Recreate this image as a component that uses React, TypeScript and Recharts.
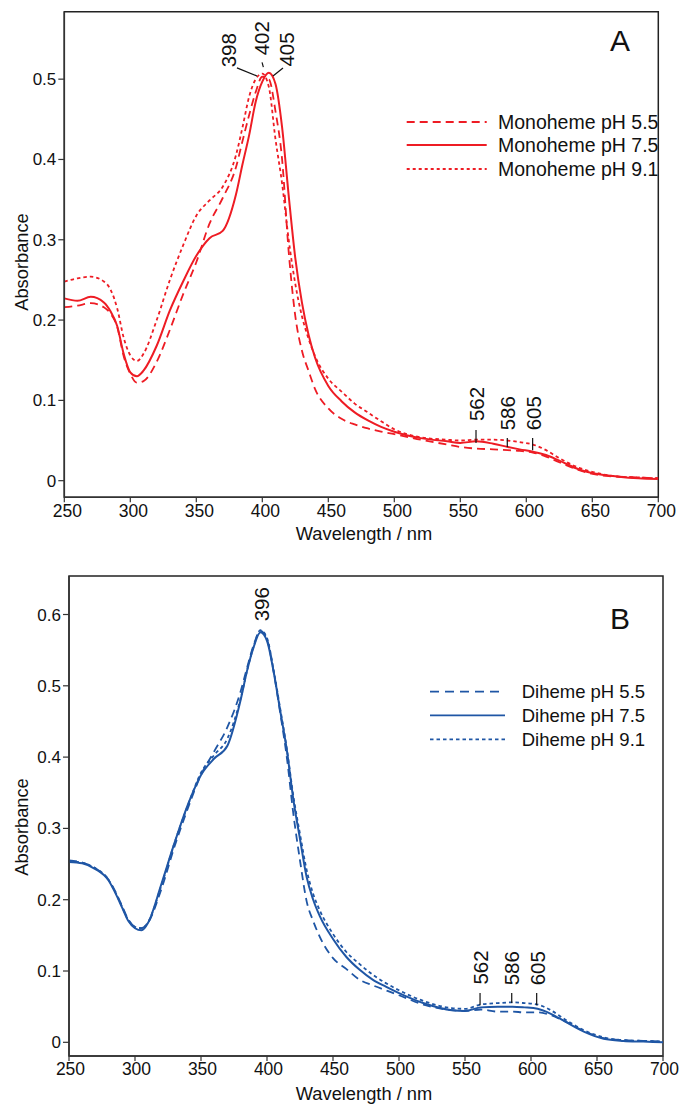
import React from "react";
import {
  LineChart,
  Line,
  XAxis,
  YAxis,
  Legend,
  ReferenceLine,
  ReferenceDot,
  ReferenceArea,
} from "recharts";

const FONT = "'Liberation Sans', Arial, sans-serif";

// wavelength grid (nm) shared by every spectrum
const wavelengths = [
  250, 260, 270, 280, 285, 290, 295, 300, 305, 310, 320, 330, 340, 350, 360, 370, 380, 385, 390,
  395, 400, 405, 410, 415, 420, 425, 430, 435, 440, 450, 460, 470, 480, 490, 500, 520, 540, 550,
  562, 575, 586, 595, 605, 615, 625, 640, 655, 670, 685, 700,
];

const monoheme55 = [
  0.216, 0.218, 0.221, 0.216, 0.208, 0.192, 0.155, 0.133, 0.122, 0.124, 0.148, 0.188, 0.232, 0.272,
  0.32, 0.352, 0.39, 0.423, 0.455, 0.484, 0.503, 0.5, 0.46, 0.4, 0.285, 0.205, 0.162, 0.137, 0.114,
  0.09, 0.077, 0.07, 0.065, 0.061, 0.058, 0.051, 0.045, 0.042, 0.04, 0.039, 0.038, 0.037, 0.035,
  0.03, 0.023, 0.013, 0.007, 0.005, 0.004, 0.003,
];
const monoheme75 = [
  0.227, 0.224, 0.229, 0.222, 0.211, 0.193, 0.158, 0.135, 0.13, 0.137, 0.168, 0.212, 0.248, 0.28,
  0.302, 0.311, 0.356, 0.394, 0.43, 0.472, 0.497, 0.508, 0.494, 0.44, 0.355, 0.277, 0.222, 0.182,
  0.153, 0.118, 0.099, 0.085, 0.075, 0.067, 0.061, 0.053, 0.049, 0.047, 0.049, 0.046, 0.042, 0.039,
  0.036, 0.032, 0.025, 0.014, 0.008, 0.005, 0.003, 0.002,
];
const monoheme91 = [
  0.248, 0.252, 0.254, 0.248, 0.238, 0.215, 0.178, 0.156, 0.149, 0.158, 0.2, 0.25, 0.293, 0.33,
  0.349, 0.366, 0.405, 0.44, 0.478, 0.5, 0.507, 0.49, 0.425, 0.37, 0.3, 0.245, 0.205, 0.177, 0.155,
  0.127, 0.111, 0.096, 0.085, 0.074, 0.064, 0.054, 0.051, 0.05, 0.051, 0.051, 0.05, 0.048, 0.045,
  0.038, 0.028, 0.016, 0.009, 0.005, 0.004, 0.003,
];

const diheme55 = [
  0.255, 0.252, 0.244, 0.228, 0.212, 0.192, 0.172, 0.162, 0.16, 0.168, 0.215, 0.275, 0.328, 0.375,
  0.408, 0.442, 0.492, 0.526, 0.558, 0.577, 0.565, 0.52, 0.462, 0.4, 0.32, 0.255, 0.198, 0.17,
  0.148, 0.118, 0.103, 0.088, 0.08, 0.073, 0.066, 0.052, 0.045, 0.044, 0.046, 0.043, 0.043, 0.042,
  0.042, 0.038, 0.03, 0.016, 0.006, 0.003, 0.002, 0.001,
];
const diheme75 = [
  0.253, 0.251, 0.243, 0.227, 0.21, 0.19, 0.17, 0.16, 0.157, 0.168, 0.222, 0.28, 0.333, 0.375,
  0.398, 0.416, 0.48, 0.522, 0.555, 0.575, 0.563, 0.52, 0.465, 0.41, 0.34, 0.285, 0.232, 0.2,
  0.177, 0.145, 0.12, 0.102, 0.088, 0.078, 0.069, 0.054, 0.045, 0.044, 0.049, 0.05, 0.05, 0.049,
  0.047, 0.04, 0.03, 0.015, 0.005, 0.002, 0.001, 0.0,
];
const diheme91 = [
  0.254, 0.252, 0.244, 0.228, 0.211, 0.191, 0.171, 0.162, 0.16, 0.169, 0.22, 0.28, 0.332, 0.378,
  0.403, 0.426, 0.482, 0.522, 0.556, 0.578, 0.567, 0.522, 0.468, 0.412, 0.345, 0.292, 0.242,
  0.208, 0.185, 0.152, 0.127, 0.11, 0.095, 0.083, 0.073, 0.057, 0.048, 0.047, 0.053, 0.055, 0.056,
  0.055, 0.053, 0.045, 0.033, 0.017, 0.007, 0.003, 0.002, 0.001,
];

const xTicks = [250, 300, 350, 400, 450, 500, 550, 600, 650, 700];
const yTicksA = [0, 0.1, 0.2, 0.3, 0.4, 0.5];
const yTicksB = [0, 0.1, 0.2, 0.3, 0.4, 0.5, 0.6];

const namesA = ["Monoheme pH 5.5", "Monoheme pH 7.5", "Monoheme pH 9.1"];
const namesB = ["Diheme pH 5.5", "Diheme pH 7.5", "Diheme pH 9.1"];

// peak labels (nm)
const peaksA = ["398", "402", "405", "562", "586", "605"];
const peaksB = ["396", "562", "586", "605"];

// where each peak label sits and its leader line, in data units
const peakLayoutA = [
  { at: [374.4, 0.536], lead: [[380.8, 0.514], [396, 0.504]] },
  { at: [399.5, 0.551], lead: [[399.8, 0.521], [400.8, 0.515]] },
  { at: [418.5, 0.537], lead: [[415.7, 0.514], [408.1, 0.504]] },
  { at: [562.3, 0.0955], lead: [[561.9, 0.063], [561.9, 0.047]] },
  { at: [585.8, 0.084], lead: [[585.6, 0.053], [585.6, 0.042]] },
  { at: [605.3, 0.084], lead: [[604.8, 0.053], [604.8, 0.038]] },
];
const peakLayoutB = [
  { at: [396, 0.6144], lead: null },
  { at: [562, 0.105], lead: [[561.4, 0.069], [561.4, 0.052]] },
  { at: [585.2, 0.104], lead: [[585.4, 0.069], [585.4, 0.055]] },
  { at: [604.9, 0.104], lead: [[604.3, 0.069], [604.3, 0.052]] },
];

const dataA = wavelengths.map((w, i) => ({
  w,
  s55: monoheme55[i],
  s75: monoheme75[i],
  s91: monoheme91[i],
}));
const dataB = wavelengths.map((w, i) => ({
  w,
  s55: diheme55[i],
  s75: diheme75[i],
  s91: diheme91[i],
}));

const dashes = ["8 5", undefined, "3.5 3"];
const keys = ["s55", "s75", "s91"];

type PanelProps = {
  data: any[];
  names: string[];
  color: string;
  top: number;
  height: number;
  margin: { top: number; right: number; bottom: number; left: number };
  yWidth: number;
  yDomain: [number, number];
  yTicks: number[];
  tickDx: number;
  peaks: string[];
  layout: any[];
  absY: number;
  legend: { left: number; top: number; rows: number[]; x0: number; x1: number; tx: number; fs: number; dash: string[] };
  letter: string;
  letterTop: number;
};

const RotText = (text: string) => (p: any) => (
  <text
    x={p.cx}
    y={p.cy}
    transform={`rotate(-90 ${p.cx} ${p.cy})`}
    textAnchor="middle"
    dominantBaseline="central"
    fontFamily={FONT}
    fontSize={20.5}
    fill="#111"
  >
    {text}
  </text>
);

const Panel = (props: PanelProps) => {
  const { data, names, color, legend } = props;
  const legendContent = () => (
    <svg width={280} height={80} style={{ display: "block" }}>
      {names.map((n, i) => (
        <g key={n}>
          <line
            x1={legend.x0}
            x2={legend.x1}
            y1={legend.rows[i]}
            y2={legend.rows[i]}
            stroke={color}
            strokeWidth={1.8}
            strokeDasharray={legend.dash[i]}
          />
          <text
            x={legend.tx}
            y={legend.rows[i]}
            dominantBaseline="central"
            fontFamily={FONT}
            fontSize={legend.fs}
            fill="#111"
          >
            {n}
          </text>
        </g>
      ))}
    </svg>
  );

  return (
    <div style={{ position: "absolute", left: 0, top: props.top }}>
      <LineChart width={679} height={props.height} data={data} margin={props.margin}>
        <XAxis
          dataKey="w"
          type="number"
          domain={[250, 700]}
          ticks={xTicks}
          allowDataOverflow
          height={40}
          tickSize={5}
          tickMargin={2}
          axisLine={{ stroke: "#333", strokeWidth: 1.5 }}
          tickLine={{ stroke: "#333", strokeWidth: 1.2 }}
          tick={{ fontSize: 17.5, fontFamily: FONT, fill: "#111", dx: props.tickDx }}
          label={{
            content: () => (
              <text x={364} y={533} textAnchor="middle" dominantBaseline="central" fontFamily={FONT} fontSize={18.3} fill="#111">
                Wavelength / nm
              </text>
            ),
          }}
        />
        <YAxis
          type="number"
          domain={props.yDomain}
          ticks={props.yTicks}
          allowDataOverflow
          width={props.yWidth}
          tickSize={6}
          tickMargin={2}
          tickFormatter={(v: number) => (v === 0 ? "0" : v.toFixed(1))}
          axisLine={{ stroke: "#333", strokeWidth: 1.5 }}
          tickLine={{ stroke: "#333", strokeWidth: 1.2 }}
          tick={{ fontSize: 17, fontFamily: FONT, fill: "#111" }}
          label={{
            content: () => (
              <text
                x={21}
                y={props.absY}
                transform={`rotate(-90 21 ${props.absY})`}
                textAnchor="middle"
                dominantBaseline="central"
                fontFamily={FONT}
                fontSize={18.3}
                fill="#111"
              >
                Absorbance
              </text>
            ),
          }}
        />
        <ReferenceArea
          x1={250}
          x2={700}
          y1={props.yDomain[0]}
          y2={props.yDomain[1]}
          fill="none"
          stroke="#222"
          strokeWidth={1.5}
          ifOverflow="visible"
        />
        {keys.map((k, i) => (
          <Line
            key={k}
            dataKey={k}
            name={names[i]}
            type="monotone"
            stroke={color}
            strokeWidth={i === 1 ? 2 : 1.8}
            strokeDasharray={dashes[i]}
            dot={false}
            activeDot={false}
            isAnimationActive={false}
          />
        ))}
        {props.layout.map((l, i) =>
          l.lead ? (
            <ReferenceLine
              key={"l" + i}
              segment={[
                { x: l.lead[0][0], y: l.lead[0][1] },
                { x: l.lead[1][0], y: l.lead[1][1] },
              ]}
              stroke="#111"
              strokeWidth={1.2}
              ifOverflow="visible"
            />
          ) : null
        )}
        {props.layout.map((l, i) => (
          <ReferenceDot
            key={"t" + i}
            x={l.at[0]}
            y={l.at[1]}
            r={0}
            ifOverflow="visible"
            shape={RotText(props.peaks[i])}
          />
        ))}
        <Legend
          layout="vertical"
          align="center"
          verticalAlign="middle"
          wrapperStyle={{ position: "absolute", left: legend.left, top: legend.top, width: 280 }}
          content={legendContent}
        />
      </LineChart>
      <div
        style={{
          position: "absolute",
          left: 610,
          top: props.letterTop,
          fontFamily: FONT,
          fontSize: 30,
          lineHeight: "30px",
          color: "#111",
        }}
      >
        {props.letter}
      </div>
    </div>
  );
};

export default function App() {
  return (
    <div style={{ position: "absolute", left: 0, top: 0, width: 679, height: 1109, background: "#fff" }}>
      <Panel
        data={dataA}
        names={namesA}
        color="#ee1c24"
        top={0}
        height={550}
        margin={{ top: 11.7, right: 20.7, bottom: 12.7, left: 0 }}
        yWidth={64.3}
        yDomain={[-0.0207, 0.584]}
        yTicks={yTicksA}
        tickDx={3}
        peaks={peaksA}
        layout={peakLayoutA}
        absY={262}
        legend={{ left: 400, top: 110, rows: [12, 35, 59], x0: 6.7, x1: 86.7, tx: 98, fs: 19.5, dash: ["8 5", "", "3 3"] }}
        letter="A"
        letterTop={26}
      />
      <Panel
        data={dataB}
        names={namesB}
        color="#1f56a5"
        top={560}
        height={549}
        margin={{ top: 16, right: 16, bottom: 13, left: 0 }}
        yWidth={69}
        yDomain={[-0.0192, 0.654]}
        yTicks={yTicksB}
        tickDx={1.5}
        peaks={peaksB}
        layout={peakLayoutB}
        absY={267}
        legend={{ left: 420, top: 115, rows: [16.7, 40.3, 64.3], x0: 10, x1: 85, tx: 101.7, fs: 18.5, dash: ["9 6", "", "3.5 3"] }}
        letter="B"
        letterTop={44.3}
      />
    </div>
  );
}
